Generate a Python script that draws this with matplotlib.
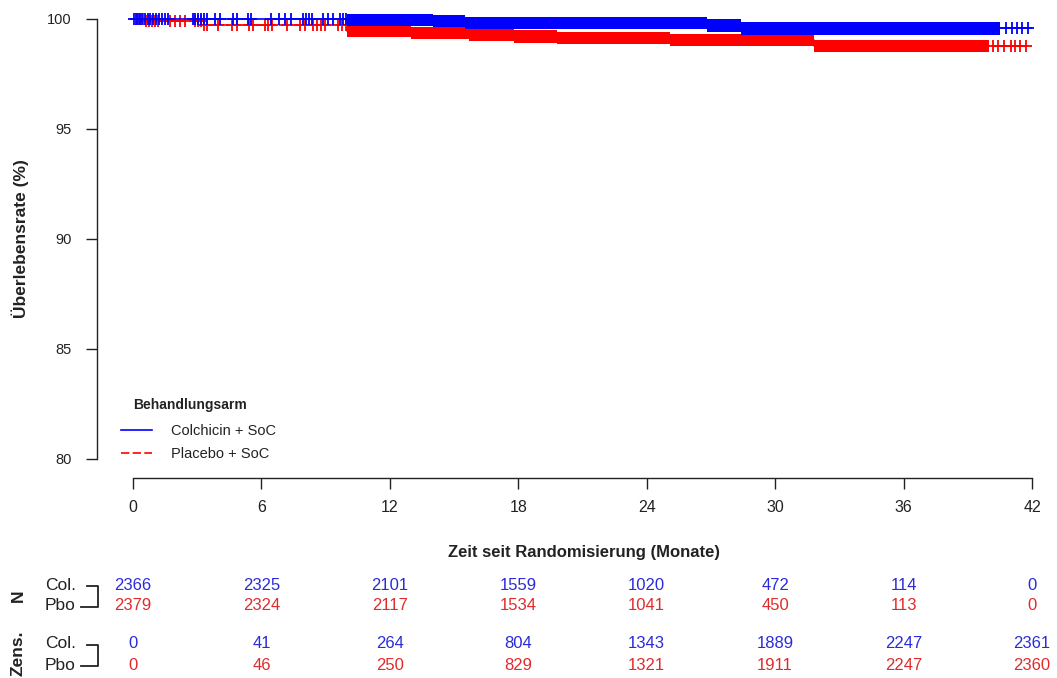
import numpy as np
import matplotlib
matplotlib.use("Agg")
import matplotlib.pyplot as plt
from matplotlib.lines import Line2D
import matplotlib.transforms as mtransforms

plt.rcParams['font.family'] = ['Liberation Sans', 'DejaVu Sans']

# ---------------- data ----------------
# Kaplan-Meier step curves (time in months, survival in %)
col_times = [0, 10.0, 14.0, 15.5, 26.8, 28.4]
col_surv = [100, 99.97, 99.90, 99.83, 99.70, 99.57]
col_end = 41.95

pbo_times = [0, 0.6, 3.3, 10.0, 13.0, 15.7, 17.8, 19.8, 25.1, 31.8]
pbo_surv = [100, 99.93, 99.72, 99.45, 99.35, 99.27, 99.20, 99.15, 99.05, 98.76]
pbo_end = 41.8

# individually visible censoring marks (months)
col_censor = [0.05, 0.14, 0.23, 0.33, 0.42, 0.56, 0.70, 0.79, 0.93, 1.07, 1.21, 1.36,
              1.50, 1.64, 2.80, 2.90, 3.04, 3.18, 3.32, 3.46, 3.83, 4.07, 4.67, 4.86,
              5.37, 5.51, 6.45, 6.82, 7.10, 7.38, 7.94, 8.08, 8.22, 8.36, 8.88, 9.11,
              9.35, 9.67, 9.81, 9.95, 40.8, 41.07, 41.3, 41.54, 41.82]
pbo_censor = [0.19, 0.33, 0.47, 0.61, 0.75, 0.89, 1.03, 1.17, 1.73, 1.96, 2.20, 2.43,
              2.90, 3.04, 3.18, 3.32, 3.46, 3.97, 4.63, 4.86, 5.42, 5.61, 6.17, 6.31,
              6.50, 7.20, 7.80, 8.04, 8.41, 8.60, 8.79, 8.97, 9.58, 9.77, 9.95,
              40.2, 40.4, 40.7, 41.0, 41.2, 41.45, 41.7]
# spans where censoring marks are so dense they merge into a solid band
col_dense = [(10.0, 40.5)]
pbo_dense = [(10.0, 40.0)]

# risk table
tick_months = [0, 6, 12, 18, 24, 30, 36, 42]
n_col = [2366, 2325, 2101, 1559, 1020, 472, 114, 0]
n_pbo = [2379, 2324, 2117, 1534, 1041, 450, 113, 0]
cens_col = [0, 41, 264, 804, 1343, 1889, 2247, 2361]
cens_pbo = [0, 46, 250, 829, 1321, 1911, 2247, 2360]

y_ticks = [80, 85, 90, 95, 100]

BLUE = '#0000FF'
RED = '#FF0000'
TBLUE = '#2b2bdc'
TRED = '#e02b2b'
DARK = '#222222'

W, H = 1057, 678
fig = plt.figure(figsize=(W / 100, H / 100), dpi=100)
ax = fig.add_axes([133 / W, 1 - 459 / H, (1032 - 133) / W, (459 - 19) / H])
ax.set_xlim(0, 42)
ax.set_ylim(80, 100)

def step_value(times, surv, t):
    idx = np.searchsorted(times, t, side='right') - 1
    return np.asarray(surv)[idx]

def draw_arm(times, surv, end, censor, dense, color, ls, z):
    tx = np.append(times, end)
    sy = np.append(surv, surv[-1])
    line, = ax.step(tx, sy, where='post', color=color, lw=1.2, zorder=z, clip_on=False)
    if ls == 'dashed':
        line.set_dashes((5, 2))
    cy = step_value(times, surv, np.asarray(censor))
    ax.plot(censor, cy, ls='none', marker='+', ms=9, mew=1.3, color=color,
            zorder=z, clip_on=False)
    half = 0.28
    for a, b in dense:
        seg_t = [a] + [t for t in times if a < t < b] + [b]
        seg_v = step_value(times, surv, np.asarray(seg_t))
        ax.fill_between(seg_t, seg_v - half, seg_v + half, step='post',
                        color=color, lw=0, zorder=z, clip_on=False)

draw_arm(pbo_times, pbo_surv, pbo_end, pbo_censor, pbo_dense, RED, 'dashed', 3)
draw_arm(col_times, col_surv, col_end, col_censor, col_dense, BLUE, 'solid', 4)

# axes styling (R base style)
for s in ['top', 'right']:
    ax.spines[s].set_visible(False)
ax.spines['left'].set_position(('outward', 36 * 0.72))
ax.spines['bottom'].set_position(('outward', 19 * 0.72))
ax.spines['left'].set_bounds(80, 100)
ax.spines['bottom'].set_bounds(0, 42)
for s in ['left', 'bottom']:
    ax.spines[s].set_linewidth(1.0)
    ax.spines[s].set_color(DARK)
ax.set_yticks(y_ticks)
ax.set_xticks(tick_months)
ax.set_xticklabels([str(m) for m in tick_months])
ax.tick_params(axis='both', length=8, width=1.0, color=DARK, labelcolor=DARK)
ax.tick_params(axis='y', pad=10.5, labelsize=10.5)
ax.tick_params(axis='x', pad=7.5, labelsize=11.5)

fig.text(20 / W, 1 - 239 / H, 'Überlebensrate (%)', rotation=90, ha='center', va='center',
         fontsize=12.5, fontweight='bold', color=DARK)
fig.text(584 / W, 1 - 552 / H, 'Zeit seit Randomisierung (Monate)', ha='center', va='center',
         fontsize=12, fontweight='bold', color=DARK)

# legend
handles = [Line2D([], [], color=BLUE, lw=1.2),
           Line2D([], [], color=RED, lw=1.2, dashes=(5, 2))]
leg = ax.legend(handles, ['Colchicin + SoC', 'Placebo + SoC'], loc='upper left',
                bbox_to_anchor=(121 / W, 1 - 424 / H), bbox_transform=fig.transFigure,
                frameon=False, borderpad=0, borderaxespad=0, handlelength=2.1,
                handletextpad=1.3, labelspacing=0.6, fontsize=10.5)
for t in leg.get_texts():
    t.set_color(DARK)
fig.text(133 / W, 1 - 405 / H, 'Behandlungsarm', ha='left', va='center',
         fontsize=10, fontweight='bold', color=DARK)

# risk table
trans = mtransforms.blended_transform_factory(ax.transData, fig.transFigure)
rows = [(585, n_col, TBLUE), (606, n_pbo, TRED), (643, cens_col, TBLUE), (665, cens_pbo, TRED)]
for ypix, vals, c in rows:
    for m, v in zip(tick_months, vals):
        ax.text(m, 1 - ypix / H, str(v), transform=trans, ha='center', va='center',
                fontsize=12, color=c, clip_on=False)

for ypix, lab in [(585, 'Col.'), (606, 'Pbo'), (643, 'Col.'), (665, 'Pbo')]:
    fig.text(45 / W, 1 - ypix / H, lab, ha='left', va='center', fontsize=12.5, color=DARK)

fig.text(18 / W, 1 - 596 / H, 'N', rotation=90, ha='center', va='center',
         fontsize=12.5, fontweight='bold', color=DARK)
fig.text(18 / W, 1 - 653 / H, 'Zens.', rotation=90, ha='center', va='center',
         fontsize=12.5, fontweight='bold', color=DARK)

def bracket(ytop, ybot):
    xs = [87 / W, 98 / W, 98 / W, 81 / W]
    ys = [1 - ytop / H, 1 - ytop / H, 1 - ybot / H, 1 - ybot / H]
    fig.add_artist(Line2D(xs, ys, color=DARK, lw=1.3, transform=fig.transFigure))

bracket(586, 607)
bracket(645, 666)

fig.savefig('out.png', dpi=100)
